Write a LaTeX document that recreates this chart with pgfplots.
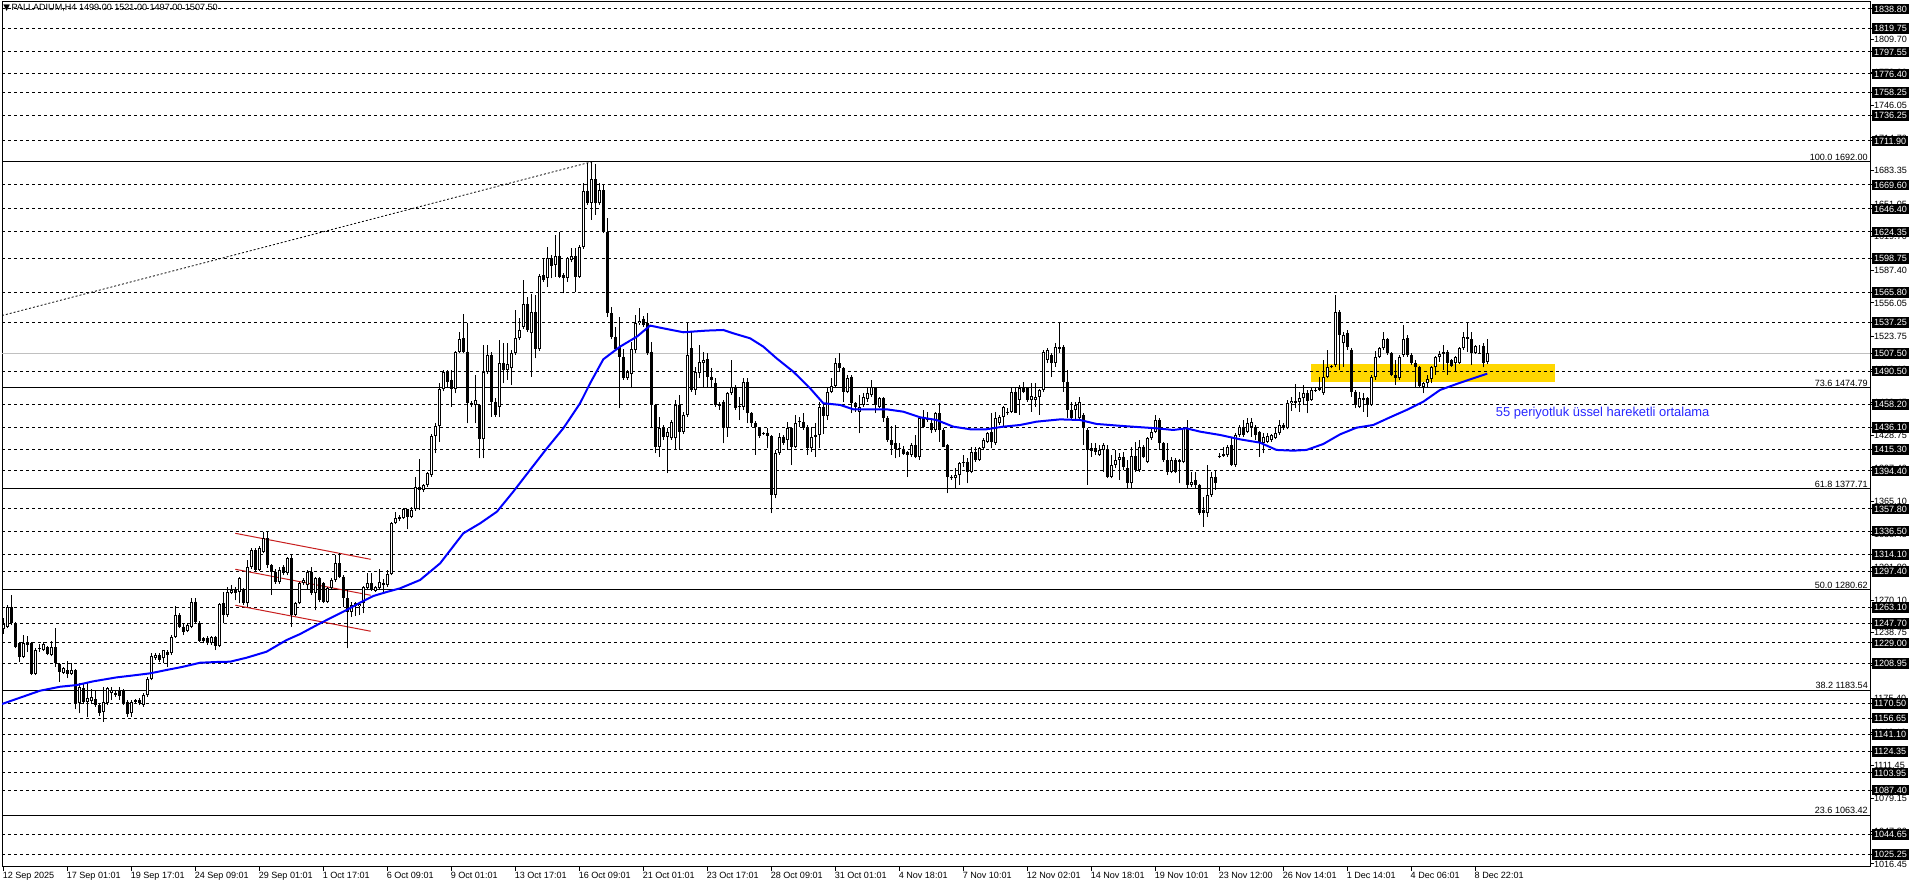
\documentclass[border=0pt]{standalone}
\usepackage{fontspec}
\setmainfont{Liberation Sans}
\newfontfamily\dejavu{DejaVu Sans}
\usepackage{pgfplots}
\usepackage{pgfplotstable}
\pgfplotsset{compat=1.18}
\newcommand{\lab}{\fontsize{6.8pt}{8pt}\selectfont}
\definecolor{gold}{RGB}{255,215,0}
\definecolor{emablue}{RGB}{0,0,255}
\definecolor{chanred}{RGB}{200,30,30}
\definecolor{txtblue}{RGB}{40,40,255}
\definecolor{pricegray}{RGB}{192,192,192}

\pgfplotstableread{
i o h l c
0 1242 1253 1238 1247
1 1244.6 1265.4 1243 1263.8
2 1263.8 1275 1246 1247.8
3 1247.8 1249 1223.7 1224.7
4 1228.5 1230 1210.9 1215.7
5 1215.7 1236.5 1214.1 1228.5
6 1227 1236 1220 1229
7 1228.5 1230 1198 1199
8 1199 1224 1198 1222
9 1224 1228 1220.5 1222.8
10 1222 1229.5 1221 1227.9
11 1225 1226 1217 1218.3
12 1217.3 1231.1 1216 1225.3
13 1224.7 1243 1206.1 1210
14 1208.6 1210 1191.7 1201.3
15 1200.3 1206 1199 1204.5
16 1202.9 1211.9 1194.9 1199
17 1199 1209.3 1198 1202.9
18 1202.9 1204 1165 1170.8
19 1170.8 1190 1161.2 1186.8
20 1185.2 1190 1170 1172.4
21 1172.4 1190 1158 1175.6
22 1173.4 1185 1170 1177.2
23 1174.7 1183.6 1167.6 1169.2
24 1169.2 1171 1159 1161.8
25 1162.8 1186.8 1153.2 1172.4
26 1170.8 1186.8 1169 1185.2
27 1180.4 1186.8 1174 1183.6
28 1181 1184 1177 1179.2
29 1183 1186.8 1174 1177.9
30 1183 1184.5 1169 1170.8
31 1172.4 1174 1158 1160.5
32 1161.2 1174 1158 1172.4
33 1172.4 1175 1171 1173.7
34 1173.7 1176 1169 1171.6
35 1169.2 1180.4 1167.6 1178.8
36 1178.8 1196.5 1177 1194.2
37 1194.2 1218.9 1193 1216.7
38 1214.1 1219 1213 1217.3
39 1217.3 1219 1211 1212.5
40 1214.1 1222.5 1209.3 1222.1
41 1220.5 1222 1206 1217.3
42 1218.9 1236.5 1217.3 1234.9
43 1234.9 1264.5 1234 1255.8
44 1255.8 1258 1243 1244
45 1244.6 1247 1236.5 1239.8
46 1240.5 1248 1239 1246.2
47 1244.6 1271.8 1243 1268.6
48 1268.6 1271.8 1248 1249.4
49 1248.4 1250 1230.1 1231.1
50 1231.1 1235 1229 1233.3
51 1234 1236 1227 1228.5
52 1228.5 1236 1227 1234.9
53 1234.9 1236 1222 1226
54 1226 1267 1225 1266.4
55 1267 1278.2 1247.8 1255.8
56 1255.8 1283 1254 1278.2
57 1277.2 1284.7 1276 1279.8
58 1279.8 1283 1270 1277.2
59 1278.2 1292 1267 1291
60 1281 1282 1265.4 1267
61 1267 1308.7 1263.8 1302.3
62 1302.3 1320 1300 1318.3
63 1318.3 1320 1297 1299.1
64 1299.1 1322 1298 1319.9
65 1316.7 1336 1315 1329.6
66 1329.6 1336 1300.7 1303.9
67 1303.9 1305 1275 1297.5
68 1297.5 1300 1286 1287.9
69 1287.9 1302.3 1286 1299.1
70 1302.3 1304 1294 1295.9
71 1295.9 1311.9 1294 1310.3
72 1310.3 1313.5 1244.6 1255.8
73 1255.8 1268 1254.8 1267
74 1267 1287.9 1266 1286.3
75 1286.3 1291 1285 1289.5
76 1285 1299.1 1280.8 1297
77 1297.5 1302.3 1275 1276.6
78 1276.6 1292 1260.6 1291
79 1291 1292 1268 1270.2
80 1286.3 1288 1267 1268.6
81 1268.6 1283 1267 1281.5
82 1281.5 1291 1280 1289.5
83 1289.5 1313.5 1287.9 1305.5
84 1305.5 1315.1 1291 1292.7
85 1292.7 1294 1263.8 1271.8
86 1271.8 1279.8 1223.7 1259
87 1259 1268.6 1254.2 1265.4
88 1264.5 1268 1255 1267
89 1264 1268.6 1256 1266.8
90 1267 1284 1257.4 1283.1
91 1281.5 1296.5 1279.8 1286.3
92 1286.3 1296.5 1279 1280.5
93 1279.2 1284 1278 1282.5
94 1281.5 1300 1280 1287.9
95 1284.5 1290 1276 1286.3
96 1284.7 1299.1 1283 1295.2
97 1295.2 1345.6 1294 1344
98 1344 1354.6 1343 1348.8
99 1348 1352 1346 1350
100 1349.5 1358.5 1348 1357.5
101 1357.5 1358 1338.2 1350.4
102 1350.4 1360 1349 1357
103 1357.5 1388.9 1356 1379.3
104 1379.3 1405.6 1356.8 1376.1
105 1376.1 1382 1374 1380.9
106 1380.9 1393 1379 1392.1
107 1390.5 1430 1389 1428
108 1428 1440.9 1411.3 1437.6
109 1437.6 1478.7 1422.6 1472.9
110 1472.9 1491.5 1471 1489.9
111 1489.9 1491.5 1475.5 1480.3
112 1481.9 1491.5 1456.3 1472.9
113 1472.9 1510 1469.1 1509.2
114 1509.2 1528.4 1508 1521
115 1522 1545.4 1507.6 1509.2
116 1509.2 1537.1 1440.2 1459.4
117 1459.4 1462 1456 1458
118 1457.8 1486.7 1440.2 1462.7
119 1457.8 1459 1406.5 1424.8
120 1424.8 1515.6 1406.5 1489.9
121 1489.9 1515.6 1488 1506
122 1506 1509 1446.6 1461.1
123 1461.1 1465 1446.6 1448.2
124 1456.3 1520.4 1446 1497.9
125 1497.9 1517.2 1478.7 1491.5
126 1491.5 1517 1482 1497
127 1493 1510.8 1477 1507.6
128 1507.6 1549.3 1506 1522
129 1522 1541.2 1520.4 1530
130 1533.2 1578.1 1531 1555
131 1555 1562 1528.4 1530
132 1527.5 1565 1485 1547
133 1547 1563.7 1502.8 1511.4
134 1511.4 1584 1510 1582
135 1582.9 1599 1576.5 1578
136 1579.7 1609.6 1571.7 1599
137 1599 1602.2 1579.7 1591.9
138 1592.6 1621.4 1581.3 1601.2
139 1601.2 1624.6 1579.7 1580.7
140 1582.9 1585 1565.3 1579.7
141 1579.7 1600.6 1576.5 1599
142 1597.4 1608.6 1595 1601.2
143 1601.2 1608.6 1566.9 1581.3
144 1581.3 1612 1580 1609.6
145 1609.6 1671.1 1608 1664.1
146 1664.1 1690.4 1650.3 1652.5
147 1652.5 1692 1635.9 1675
148 1675 1690 1640.7 1651.9
149 1651.9 1671.1 1650.3 1664.7
150 1664.7 1669.5 1623 1624.6
151 1624.6 1637.5 1542.8 1546.1
152 1546.1 1552 1521 1523.6
153 1523.6 1533 1510 1511.4
154 1514 1542.8 1454.7 1504.4
155 1504.4 1512 1481.9 1483.5
156 1483.5 1491.5 1482 1490
157 1488 1518.8 1473.9 1511.4
158 1510.8 1544.5 1507.6 1536.4
159 1536.4 1550.9 1535 1539
160 1541 1543 1533 1535
161 1536.4 1546 1506 1507.6
162 1509.2 1518.8 1435.4 1457.9
163 1457.9 1459 1411.4 1417.8
164 1417.8 1446.7 1408.2 1435.4
165 1435.4 1438.6 1424.2 1427.4
166 1427.4 1435.4 1392.1 1431.7
167 1425.8 1443.4 1424.2 1441.9
168 1425.8 1462.7 1414.6 1457.9
169 1457.9 1467.5 1414.6 1432.2
170 1432.2 1451.5 1430 1448.3
171 1448.3 1538 1446.7 1506
172 1512.4 1528.4 1470.7 1472.3
173 1472.3 1494.8 1467.5 1490
174 1488.3 1515.6 1483.5 1499.6
175 1498 1509.2 1475.5 1501.2
176 1501.8 1507.6 1475.5 1484.5
177 1485.1 1493.1 1475.5 1481.9
178 1478.7 1483.5 1456.3 1457.9
179 1458.5 1461.1 1453.1 1456.9
180 1461.1 1462.7 1421 1435.4
181 1435.4 1470.7 1427.4 1469.1
182 1469.7 1501.2 1467.5 1475.5
183 1475.5 1477.1 1453.1 1454.7
184 1456.9 1465.9 1443.4 1455.6
185 1456.3 1483.5 1453.1 1480.3
186 1480.3 1483.5 1440.2 1449.9
187 1450.5 1451.5 1437 1440.2
188 1440.2 1442 1409.8 1436.4
189 1436.4 1437 1425.8 1428
190 1430.6 1432.2 1429 1430
191 1431.3 1435.4 1416.2 1428
192 1428 1429 1353.6 1371.3
193 1371.3 1414.6 1368.1 1411.4
194 1411.4 1430.6 1409.8 1427.4
195 1427.4 1429 1419.4 1421
196 1424.2 1441.8 1414.6 1435.4
197 1435.4 1437 1400.1 1417.8
198 1417.8 1448.3 1416.2 1440.2
199 1441 1446.7 1437 1442.8
200 1441.8 1449.9 1433.8 1435.4
201 1435.4 1438.6 1409.8 1416.2
202 1416.2 1437 1413 1427.4
203 1427.4 1440.2 1408.2 1429
204 1429 1461.1 1416.2 1456.3
205 1456.3 1459.5 1430 1447
206 1447 1473.9 1443.4 1470.7
207 1470.7 1483.5 1469.1 1476.2
208 1476.2 1502.8 1474.9 1498
209 1498 1507.6 1490 1493.2
210 1493.2 1494.8 1461.1 1470.7
211 1470.7 1486.7 1469.1 1483.5
212 1485.1 1486.7 1449.9 1459.5
213 1459.5 1461.1 1451.5 1456.3
214 1451.5 1467.5 1430.6 1456.3
215 1457.9 1469.1 1456.3 1465.9
216 1463.3 1473.9 1461.1 1469.1
217 1467.5 1481.9 1465.9 1474.9
218 1474.9 1475.5 1449.9 1457.9
219 1456.3 1465.9 1454.7 1464.3
220 1464.3 1465.3 1441.8 1445.1
221 1445.1 1447 1422.6 1424.2
222 1424.2 1437.7 1409.8 1419.4
223 1421 1438.6 1406.6 1415.2
224 1416.2 1421 1408.2 1415.6
225 1415.2 1418.4 1409.8 1410.7
226 1413 1413.5 1388.9 1409.8
227 1409.8 1421 1408.2 1419.4
228 1419.4 1429 1406.6 1408.2
229 1408.2 1446.7 1405 1445.1
230 1445.1 1453.1 1435.4 1437
231 1443.4 1451.5 1441.8 1445.1
232 1440.2 1443.4 1430.6 1433.8
233 1433.8 1451.5 1432.2 1449.9
234 1449.9 1459.5 1422.6 1433.8
235 1433.8 1435.4 1417 1417.8
236 1419.4 1420 1372.9 1388.9
237 1388.9 1390.5 1385.7 1387.3
238 1387.3 1396.9 1377.7 1390.5
239 1390.5 1403.4 1380.9 1401.8
240 1401.8 1409.8 1398.5 1403.4
241 1403.4 1406.6 1382.5 1393.7
242 1393.7 1417.8 1392.1 1413
243 1413 1417.8 1403.4 1405
244 1405 1417.8 1404 1416.2
245 1416.2 1425.8 1414.6 1424.2
246 1422.6 1432.2 1421 1430.6
247 1432.2 1449.9 1416.2 1422.6
248 1421 1451.5 1419.4 1445.1
249 1440.2 1448.3 1438.6 1446.7
250 1446.7 1456.9 1437 1456.3
251 1449.9 1454.7 1448.3 1451.5
252 1451.5 1473.9 1449.9 1470.7
253 1470.7 1473.9 1449.9 1450.5
254 1462.7 1477.1 1448.3 1473.9
255 1473.9 1480.3 1469 1470.7
256 1473.9 1475.5 1461.1 1462.7
257 1462.7 1478.7 1451.5 1466.5
258 1462.7 1478.7 1456.3 1465.9
259 1465.9 1473 1448.3 1472.3
260 1472.3 1510.8 1470.7 1509.2
261 1501.2 1512.4 1498 1510.8
262 1506 1507.6 1485.1 1498
263 1498 1517.2 1494.8 1514
264 1512 1538 1508 1514
265 1514 1516 1470.7 1480.3
266 1480.3 1491.5 1445 1453
267 1453 1461 1443.4 1445
268 1453 1461 1443.4 1457.8
269 1445 1465.9 1443 1461
270 1448.2 1450 1419.4 1435.4
271 1433.8 1436 1380.9 1414.6
272 1416.2 1421 1408.1 1413.9
273 1416.2 1421 1409.7 1413
274 1409.7 1419.4 1409 1414.6
275 1414.6 1421 1393.7 1419.4
276 1414.6 1419.4 1387.5 1388.9
277 1388.9 1409.7 1387.3 1400.1
278 1400.1 1414.6 1396.9 1404.9
279 1404.9 1411.3 1385.7 1408.1
280 1408.1 1412.9 1395.3 1398.5
281 1396.9 1404.9 1377.7 1382.5
282 1382.5 1417.8 1377.7 1408.8
283 1408.8 1422.6 1393.7 1395.3
284 1395.3 1424.2 1393.7 1417.8
285 1417.8 1419.4 1406.5 1408.1
286 1403.3 1427.4 1401.7 1425.8
287 1425.8 1435.4 1424.2 1432.2
288 1432.2 1448.2 1430.6 1443.4
289 1443.4 1445 1414.6 1420.9
290 1420.9 1422.6 1403.3 1404.9
291 1404.9 1420.9 1390.5 1393.7
292 1393.7 1408.1 1392.1 1404.9
293 1404.9 1406.5 1392.1 1393.7
294 1404.9 1406 1382.5 1403.3
295 1403.3 1437 1401.7 1435.4
296 1435.4 1443.4 1377.7 1380.9
297 1380.9 1393.7 1379.3 1384.1
298 1385.7 1393.7 1377.7 1380.9
299 1380.9 1382 1352 1353.6
300 1356.8 1369.7 1340.8 1353.6
301 1353.6 1400.1 1350.4 1371.3
302 1371.3 1393.7 1369.7 1388.9
303 1388.9 1395.3 1376.1 1382.5
304 1407.6 1411.3 1406.5 1408.5
305 1408.8 1417.8 1408.1 1410.7
306 1409.7 1419.4 1408.1 1417.8
307 1419.4 1425.8 1399 1400.1
308 1400.1 1430.6 1398.5 1429
309 1429 1438.6 1427.4 1437
310 1437 1443.4 1427.4 1429
311 1432.2 1445 1430.6 1440.8
312 1437 1445 1427.4 1441.8
313 1437 1438.6 1424.2 1429
314 1432.2 1433 1408.1 1420.9
315 1420.9 1430.6 1411.3 1427.4
316 1422.6 1430.6 1420.9 1428.3
317 1424.2 1430 1422.6 1429
318 1425.8 1437 1424.8 1431.2
319 1430.6 1443.4 1429 1438.6
320 1438.6 1440.2 1433.8 1435.4
321 1435.4 1462.7 1434.4 1459.4
322 1459.4 1465.9 1452.4 1462
323 1462 1478 1454.6 1459.4
324 1461 1470.7 1451.4 1464.3
325 1464.3 1477.1 1457.8 1469.1
326 1469.1 1472.3 1449.8 1462
327 1462.6 1473.9 1462 1472.3
328 1472.3 1473.9 1470.7 1471.6
329 1472.3 1485.1 1471.6 1473.9
330 1469.1 1501.1 1467.5 1485.1
331 1485.1 1510.8 1483.5 1494.1
332 1494.1 1496.3 1493.1 1495.4
333 1496.3 1563.7 1494.7 1547.6
334 1547.6 1549.2 1491.5 1525.2
335 1517.2 1528.4 1494.7 1525.2
336 1526.8 1530 1510.8 1514
337 1510.8 1512.4 1465.9 1470.7
338 1470.7 1472.3 1454.6 1457.8
339 1456.2 1470.7 1454.6 1464.3
340 1464.3 1469.1 1451.4 1462.6
341 1464.3 1465.9 1446.6 1457.8
342 1457.8 1486.7 1456.8 1485.1
343 1485.1 1510.1 1481.9 1504.4
344 1504.4 1514 1502.8 1512.4
345 1512.4 1528.4 1510.8 1521
346 1521 1522 1506 1507.5
347 1507.5 1509.1 1485.7 1486.7
348 1486.7 1501.1 1477.1 1483.5
349 1483.5 1506 1481.9 1504.4
350 1506 1534.8 1504.4 1521
351 1521.9 1525.2 1504.4 1506
352 1506 1507.5 1496.3 1497.9
353 1497.9 1501.1 1475.5 1494.1
354 1494.1 1495.4 1475.5 1476.1
355 1475.5 1480.3 1469.1 1478.7
356 1478.7 1486.7 1475.5 1482.9
357 1482.9 1495.4 1478.7 1494.1
358 1494.1 1505 1486.7 1503.7
359 1503.7 1510.1 1499.5 1506.9
360 1506.9 1515.6 1491.5 1509.1
361 1509.1 1510.8 1486.7 1497.9
362 1501.1 1502.1 1494.7 1495.4
363 1497.9 1505 1490.9 1503.7
364 1497.9 1514 1497.3 1512.4
365 1512.4 1528.4 1510.8 1522.9
366 1522.9 1538 1509.1 1521
367 1521 1528.4 1496.3 1508.2
368 1508.2 1515.6 1506.9 1514.6
369 1508.2 1515.6 1506.9 1507.5
370 1514.6 1517.2 1494.1 1498.6
371 1499 1521 1497 1507.5
}\candles

\pgfplotstableread{
i p
-0.33 1170.2
4.2 1176.3
9.2 1183
14.2 1186.8
18.3 1188.4
22.5 1192
28.3 1195.8
32.5 1197.7
36.7 1199.7
40.8 1202.9
45 1206.1
49.2 1209.9
53.3 1210.6
56.7 1210.9
60.8 1214.7
65.8 1220.5
70.8 1231.7
74.2 1237.5
79.2 1247.8
82.5 1254.2
85.8 1260.6
89.2 1267.7
92.5 1274.1
95.8 1277.9
99.2 1281.5
104.2 1289.5
109.2 1305.5
115 1334.4
119.2 1344
123.4 1355.2
127.5 1374.5
131.7 1395.4
135.9 1416.2
140 1435.4
144.2 1459.5
146.7 1478.7
150 1501.8
154.2 1514
158.4 1523.6
161.7 1534.2
165 1531.6
170 1527.8
175.8 1529.4
180 1530
182.5 1526.8
186.7 1522
190 1514
193.3 1502.8
197.5 1489.9
201.7 1473.9
205 1459.5
209.2 1457.9
212.5 1453.7
216.7 1453.7
220.8 1453.7
225 1451.4
229.2 1446
233.3 1443.4
237.5 1437
241.7 1434.5
245.8 1434.5
250 1437
254.2 1438.6
258.3 1441.8
264.2 1444
269.2 1443.4
273.3 1439.6
280 1437.6
288.3 1435.4
292.5 1433.8
295.8 1435.4
299.2 1432.2
304.2 1429
309.2 1424.8
314.2 1421.6
318.3 1414.6
322.5 1413.9
325.8 1414.6
330 1420.3
334.2 1429.6
338.3 1436
342.5 1438.6
346.7 1446
350.8 1453
355 1461
359.2 1472.3
363.3 1478
367.5 1483.5
371 1488
}\ema

\begin{document}
\begin{tikzpicture}
\fill[white] (0,0) rectangle (1437pt,666pt);
\path[use as bounding box] (0,0) rectangle (1437pt,666pt);
\begin{axis}[
  at={(1.5pt,15.75pt)}, anchor=south west,
  scale only axis, width=1401pt, height=648.75pt,
  xmin=-0.33, xmax=466.7, ymin=1013.4, ymax=1845.53,
  clip mode=individual,
  axis line style={black, line width=0.75pt},
  tick align=outside, major tick length=3pt,
  tick style={black, line width=0.75pt},
  xtick pos=bottom, ytick pos=right, yticklabel pos=right,
  xtick={0,16,...,368},
  xticklabels={12 Sep 2025,17 Sep 01:01,19 Sep 17:01,24 Sep 09:01,29 Sep 01:01,1 Oct 17:01,6 Oct 09:01,9 Oct 01:01,13 Oct 17:01,16 Oct 09:01,21 Oct 01:01,23 Oct 17:01,28 Oct 09:01,31 Oct 01:01,4 Nov 18:01,7 Nov 10:01,12 Nov 02:01,14 Nov 18:01,19 Nov 10:01,23 Nov 12:00,26 Nov 14:01,1 Dec 14:01,4 Dec 06:01,8 Dec 22:01},
  xticklabel style={font=\lab, anchor=north west, inner sep=0pt, xshift=-0.6pt, yshift=-0.6pt},
  ytick={1809.70,1778.00,1746.05,1714.70,1683.35,1651.05,1619.70,1587.40,1556.05,1523.75,1492.10,1460.45,1428.75,1397.40,1365.10,1333.45,1301.80,1270.10,1238.75,1207.10,1175.40,1143.10,1111.45,1079.15,1047.80,1016.45},
  yticklabels={1809.70,1778.00,1746.05,1714.70,1683.35,1651.05,1619.70,1587.40,1556.05,1523.75,1492.10,1460.45,1428.75,1397.40,1365.10,1333.45,1301.80,1270.10,1238.75,1207.10,1175.40,1143.10,1111.45,1079.15,1047.80,1016.45},
  yticklabel style={font=\lab, anchor=west, inner xsep=1.3pt, inner ysep=1.4pt, text height=5pt, text depth=0.2pt, xshift=-1.5pt},
  extra y ticks={1838.80,1819.75,1797.55,1776.40,1758.25,1736.25,1711.90,1669.60,1646.40,1624.35,1598.75,1565.80,1537.25,1507.50,1490.50,1458.20,1436.10,1415.30,1394.40,1357.80,1336.50,1314.10,1297.40,1263.10,1247.70,1229.00,1208.95,1170.50,1156.65,1141.10,1124.35,1103.95,1087.40,1044.65,1025.25},
  extra y tick labels={1838.80,1819.75,1797.55,1776.40,1758.25,1736.25,1711.90,1669.60,1646.40,1624.35,1598.75,1565.80,1537.25,1507.50,1490.50,1458.20,1436.10,1415.30,1394.40,1357.80,1336.50,1314.10,1297.40,1263.10,1247.70,1229.00,1208.95,1170.50,1156.65,1141.10,1124.35,1103.95,1087.40,1044.65,1025.25},
  extra y tick style={yticklabel style={fill=black, text=white}},
]
% yellow zone
\addplot[fill=gold, draw=none] coordinates {(326.9,1480.3) (387.9,1480.3) (387.9,1497.3) (326.9,1497.3)} -- cycle;
% horizontal dashed levels
\pgfplotsinvokeforeach{1838.80,1819.75,1797.55,1776.40,1758.25,1736.25,1711.90,1669.60,1646.40,1624.35,1598.75,1565.80,1537.25,1490.50,1458.20,1436.10,1415.30,1394.40,1357.80,1336.50,1314.10,1297.40,1263.10,1247.70,1229.00,1208.95,1170.50,1156.65,1141.10,1124.35,1103.95,1087.40,1044.65,1025.25}{
  \addplot[black, line width=0.75pt, dash pattern=on 2.25pt off 2.25pt, no markers] coordinates {(-0.33,#1) (466.7,#1)};
}
% Fibonacci levels
\pgfplotsinvokeforeach{1692.00,1474.79,1377.71,1280.62,1183.54,1063.42}{
  \addplot[black, line width=0.75pt, no markers] coordinates {(-0.33,#1) (466.7,#1)};
}
\addplot[black, line width=0.6pt, dash pattern=on 1.5pt off 1.5pt, no markers] coordinates {(-0.33,1543.9) (147.3,1692)};
% current price line
\addplot[pricegray, line width=0.75pt, no markers] coordinates {(-0.33,1507.5) (466.7,1507.5)};
% channel
\addplot[chanred, line width=0.75pt, no markers] coordinates {(58,1334.4) (91.85,1309.4)};
\addplot[chanred, line width=0.75pt, no markers] coordinates {(58,1299.8) (91.85,1274.8)};
\addplot[chanred, line width=0.75pt, no markers] coordinates {(58,1265.2) (91.85,1240.2)};
% candles: wicks
\addplot[black, line width=0.75pt, no markers, quiver={u=0, v=\thisrow{h}-\thisrow{l}}] table[x=i, y=l] {\candles};
% bearish bodies
\addplot[black, line width=2.25pt, no markers, unbounded coords=discard, quiver={u=0, v=\thisrow{c}-\thisrow{o}}] table[x=i, y expr={\thisrow{c}<\thisrow{o} ? \thisrow{o} : nan}] {\candles};
% bullish bodies
\addplot[black, line width=2.25pt, no markers, unbounded coords=discard, quiver={u=0, v={max(\thisrow{c}-\thisrow{o},0.9)}}] table[x=i, y expr={\thisrow{c}>=\thisrow{o} ? \thisrow{o} : nan}] {\candles};
\addplot[white, line width=0.75pt, no markers, unbounded coords=discard, quiver={u=0, v=\thisrow{c}-\thisrow{o}-1.9}] table[x=i, y expr={\thisrow{c}-\thisrow{o}>2.4 ? \thisrow{o}+0.95 : nan}] {\candles};
% EMA 55
\addplot[emablue, line width=1.5pt, no markers] table[x=i, y=p] {\ema};
% texts
\node[anchor=west, font=\lab, inner sep=0pt] at (axis cs:-0.33,1839.8) {\hspace{0.8pt}{\dejavu\fontsize{6.5pt}{6.5pt}\selectfont ▼}\hspace{1.2pt}PALLADIUM,H4\hspace{2pt}1499.00 1521.00 1497.00 1507.50};
\node[anchor=west, font=\fontsize{9.7pt}{11pt}\selectfont, text=txtblue, inner sep=0pt] at (axis cs:373.1,1450.4) {55 periyotluk üssel hareketli ortalama};
\node[anchor=south east, font=\lab, inner sep=0.6pt] at (axis cs:466.4,1692.00) {100.0 1692.00};
\node[anchor=south east, font=\lab, inner sep=0.6pt] at (axis cs:466.4,1474.79) {73.6 1474.79};
\node[anchor=south east, font=\lab, inner sep=0.6pt] at (axis cs:466.4,1377.71) {61.8 1377.71};
\node[anchor=south east, font=\lab, inner sep=0.6pt] at (axis cs:466.4,1280.62) {50.0 1280.62};
\node[anchor=south east, font=\lab, inner sep=0.6pt] at (axis cs:466.4,1183.54) {38.2 1183.54};
\node[anchor=south east, font=\lab, inner sep=0.6pt] at (axis cs:466.4,1063.42) {23.6 1063.42};
\end{axis}
\end{tikzpicture}
\end{document}
